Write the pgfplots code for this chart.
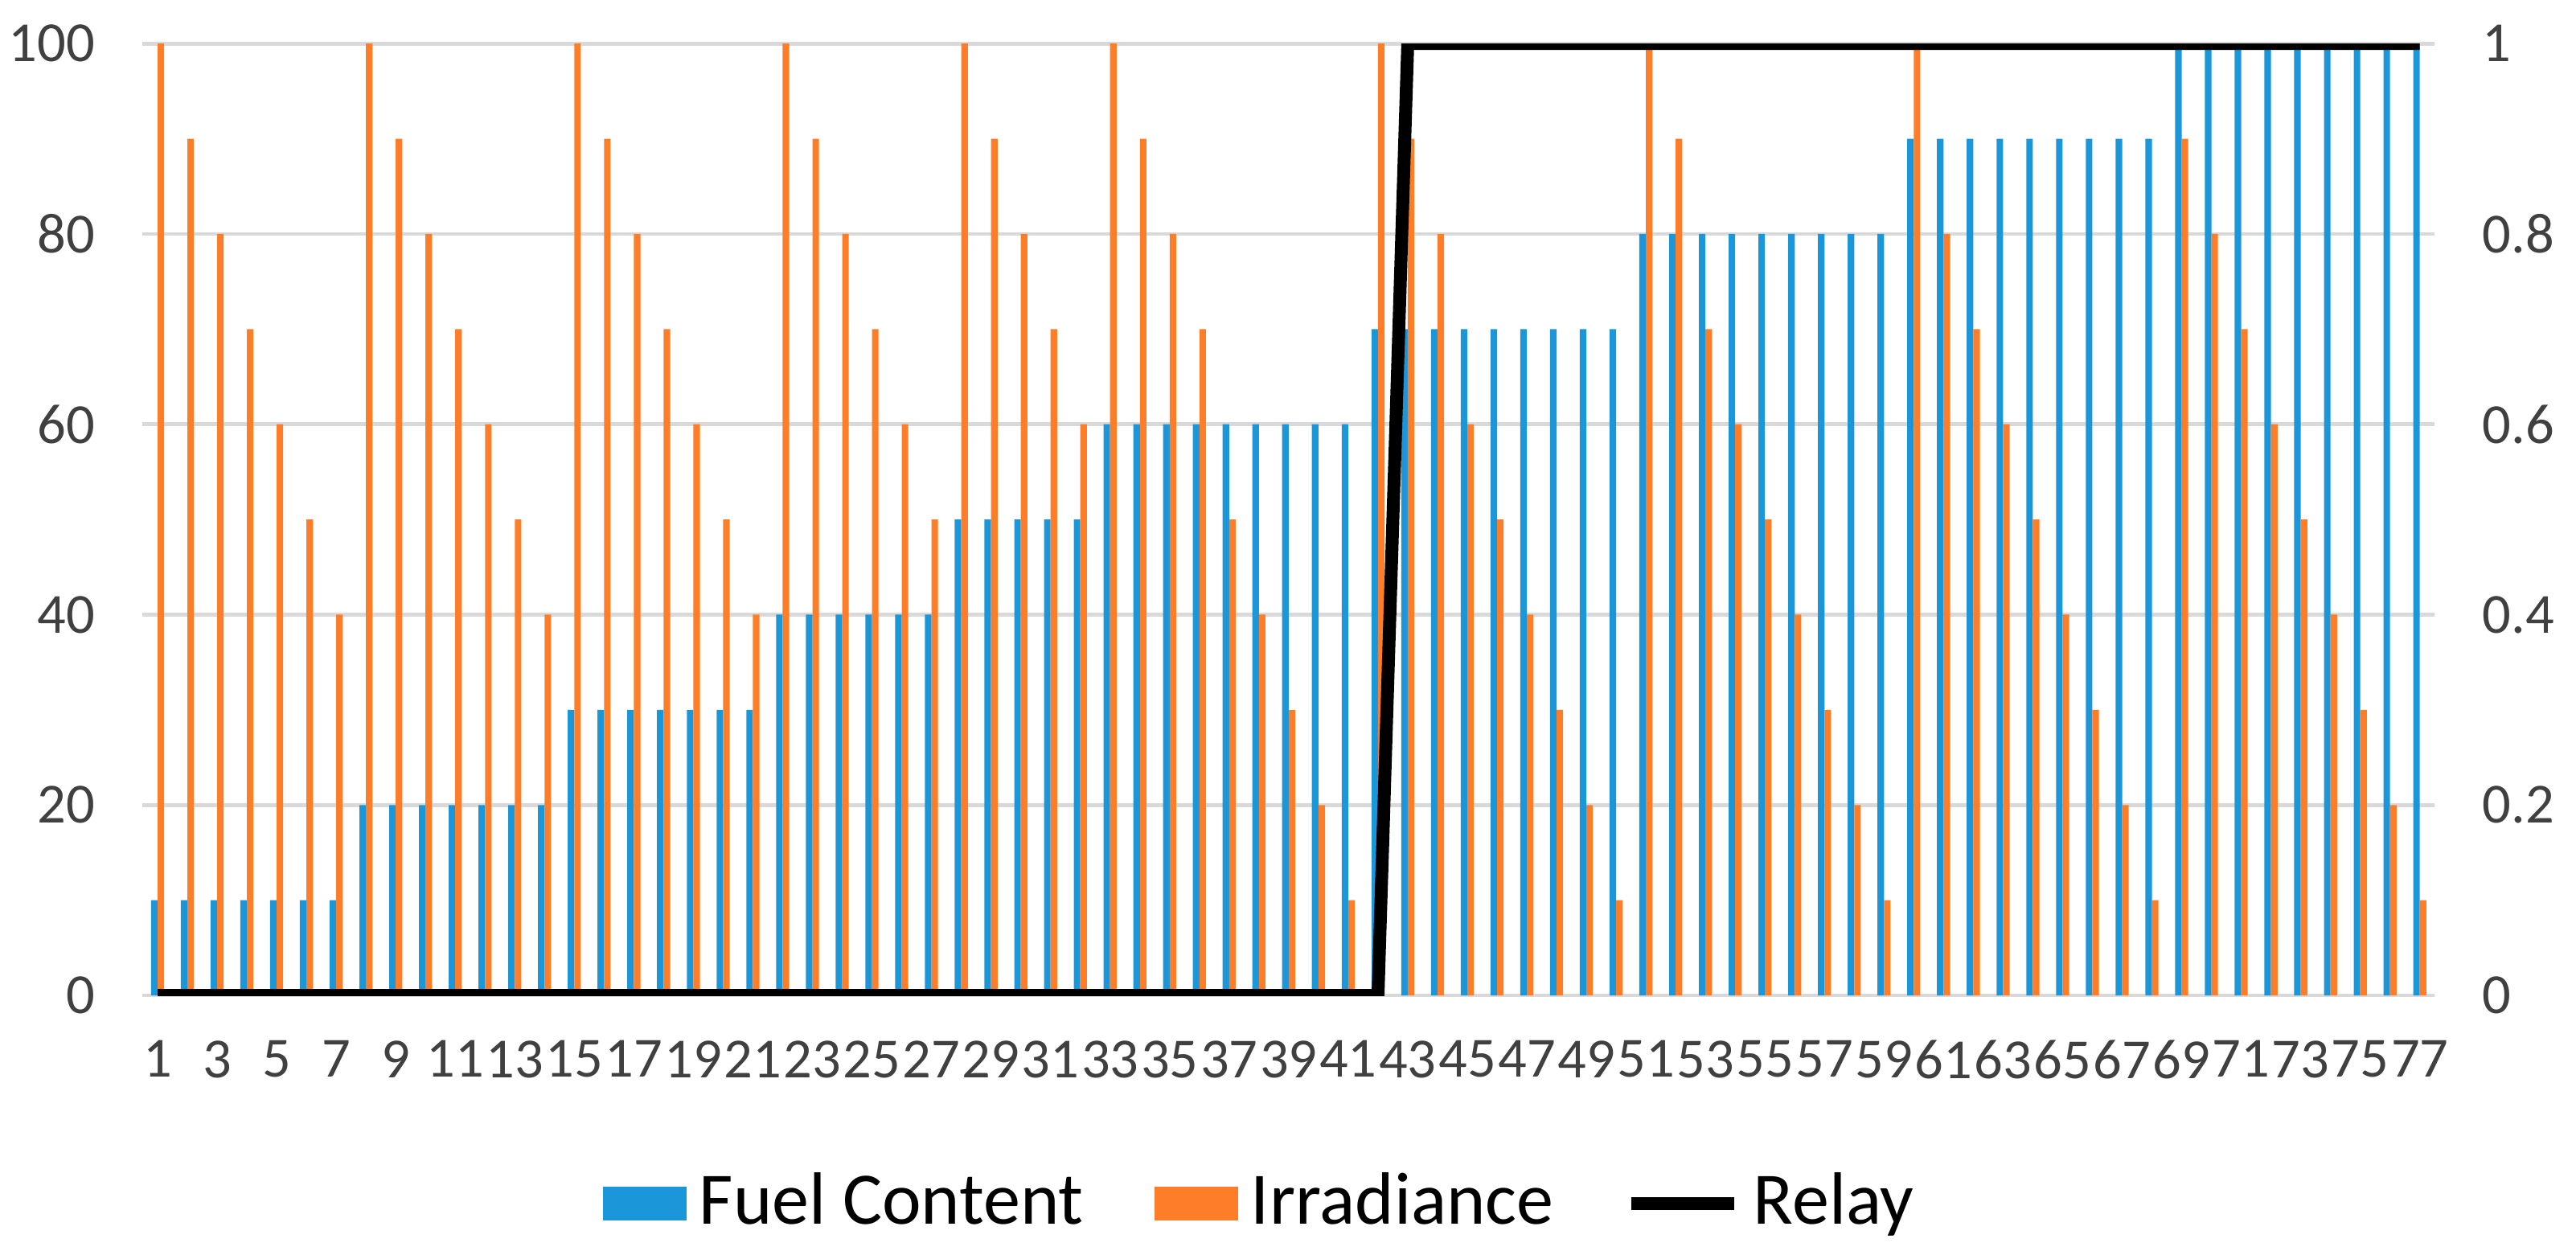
\documentclass[border=0pt]{standalone}
\usepackage{fontspec}
\setmainfont{Carlito}
\usepackage{pgfplots}
\pgfplotsset{compat=1.18}
\usepackage{pgfplotstable}
\definecolor{fuelblue}{RGB}{27,151,217}
\definecolor{irrorange}{RGB}{253,125,40}
\definecolor{gridgray}{RGB}{217,217,217}
\definecolor{ticktext}{RGB}{64,64,64}

% sample, fuel content, irradiance, relay state
\pgfplotstableread{
x fuel irr relay
1 10 100 0
2 10 90 0
3 10 80 0
4 10 70 0
5 10 60 0
6 10 50 0
7 10 40 0
8 20 100 0
9 20 90 0
10 20 80 0
11 20 70 0
12 20 60 0
13 20 50 0
14 20 40 0
15 30 100 0
16 30 90 0
17 30 80 0
18 30 70 0
19 30 60 0
20 30 50 0
21 30 40 0
22 40 100 0
23 40 90 0
24 40 80 0
25 40 70 0
26 40 60 0
27 40 50 0
28 50 100 0
29 50 90 0
30 50 80 0
31 50 70 0
32 50 60 0
33 60 100 0
34 60 90 0
35 60 80 0
36 60 70 0
37 60 50 0
38 60 40 0
39 60 30 0
40 60 20 0
41 60 10 0
42 70 100 0
43 70 90 1
44 70 80 1
45 70 60 1
46 70 50 1
47 70 40 1
48 70 30 1
49 70 20 1
50 70 10 1
51 80 100 1
52 80 90 1
53 80 70 1
54 80 60 1
55 80 50 1
56 80 40 1
57 80 30 1
58 80 20 1
59 80 10 1
60 90 100 1
61 90 80 1
62 90 70 1
63 90 60 1
64 90 50 1
65 90 40 1
66 90 30 1
67 90 20 1
68 90 10 1
69 100 90 1
70 100 80 1
71 100 70 1
72 100 60 1
73 100 50 1
74 100 40 1
75 100 30 1
76 100 20 1
77 100 10 1
}\data

\begin{document}
\begin{tikzpicture}
\useasboundingbox (-22.16pt,-38.95pt) rectangle (377.84pt,154.56pt);
\begin{axis}[
    at={(0,0)}, anchor=south west,
    scale only axis, width=355.9pt, height=147.8pt,
    xmin=0.5, xmax=77.5, ymin=0, ymax=100,
    ybar=0pt, bar width=0.22,
    xtick={1,3,...,77},
    ytick={0,20,...,100},
    ymajorgrids, grid style={gridgray, line width=0.6pt},
    axis line style={draw=none},
    major tick length=0pt,
    /pgf/number format/assume math mode=true,
    tick label style={font=\fontsize{8.8}{10}\selectfont, text=ticktext},
    xticklabel style={yshift=-3.5pt},
    yticklabel style={xshift=-3.9pt},
    legend style={at={(0.4895,-0.2186)}, anchor=center, draw=none,
        legend columns=3, font=\fontsize{11.5}{13}\selectfont,
        /tikz/every even column/.append style={column sep=9pt}},
]
    \addplot[draw=none, fill=fuelblue,
        legend image code/.code={\fill[fuelblue] (0pt,-2.6pt) rectangle (13pt,2.6pt);}]
        table[x=x, y=fuel]{\data};
    \addlegendentry{Fuel Content}
    \addplot[draw=none, fill=irrorange,
        legend image code/.code={\fill[irrorange] (0pt,-2.6pt) rectangle (13pt,2.6pt);}]
        table[x=x, y=irr]{\data};
    \addlegendentry{Irradiance}
    \addlegendimage{legend image code/.code={\draw[black, line width=2pt] (0pt,0pt) -- (16pt,0pt);}}
    \addlegendentry{Relay}
\end{axis}
\begin{axis}[
    at={(0,0)}, anchor=south west,
    scale only axis, width=355.9pt, height=147.8pt,
    xmin=0.5, xmax=77.5, ymin=0, ymax=1,
    axis y line*=right, axis x line=none,
    axis line style={draw=none},
    major tick length=0pt,
    ytick={0,0.2,0.4,0.6,0.8,1},
    yticklabels={0,0.2,0.4,0.6,0.8,1},
    tick label style={font=\fontsize{8.8}{10}\selectfont, text=ticktext},
    yticklabel style={xshift=3.9pt},
]
    \addplot[black, line width=2pt, line join=round, mark=none] table[x=x, y=relay]{\data};
\end{axis}
\end{tikzpicture}
\end{document}
